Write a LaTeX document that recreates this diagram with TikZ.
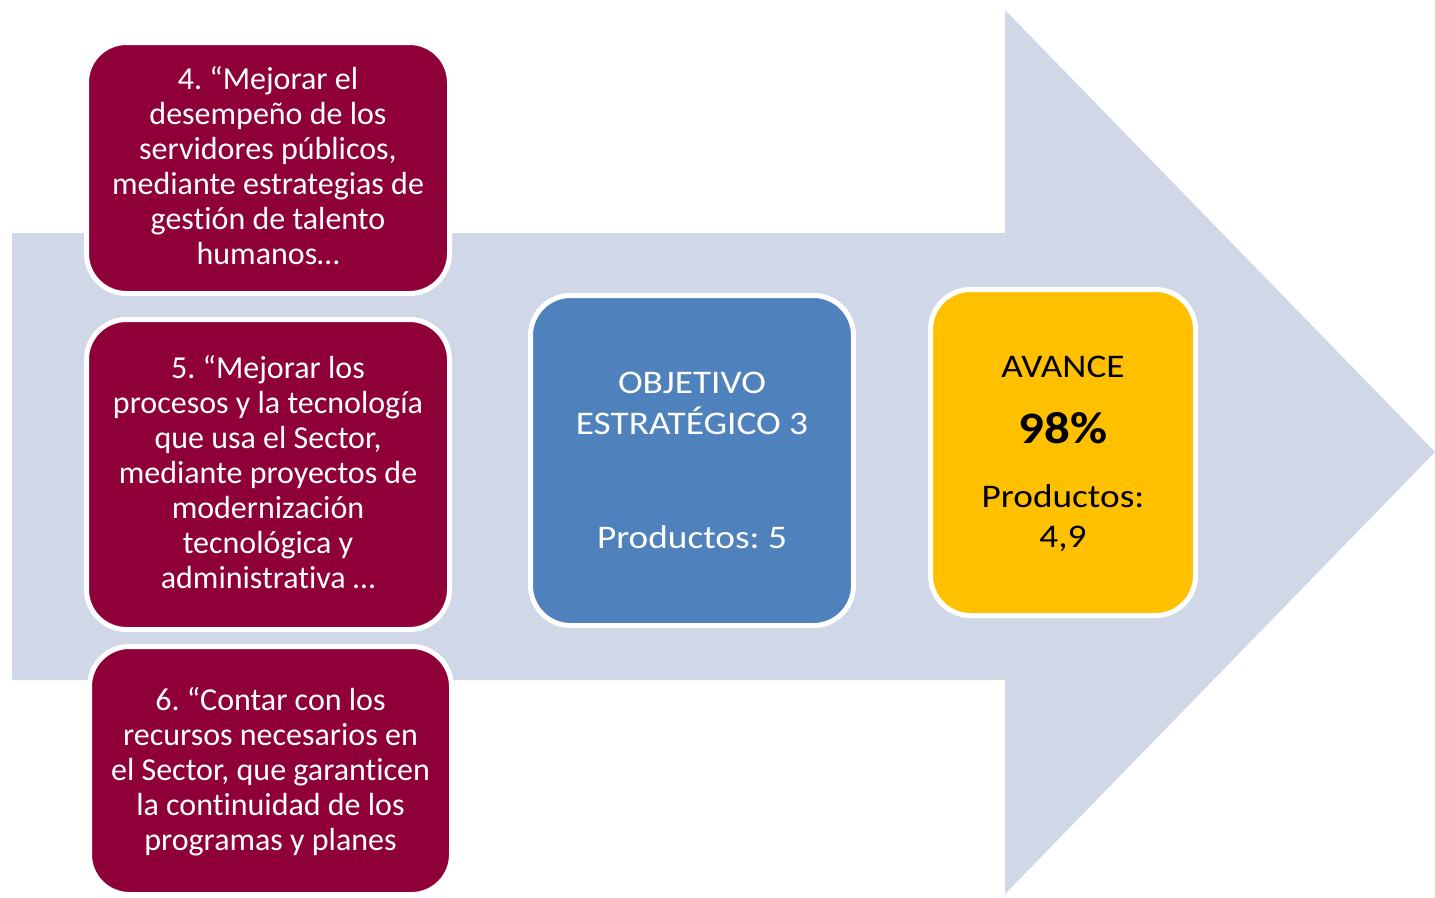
\documentclass[tikz,border=0pt]{standalone}
\usepackage{fontspec}
\setmainfont{Carlito}[Ligatures=CommonOff]
\newfontfamily\widefont{Carlito}[Ligatures=CommonOff,FakeStretch=1.13]
\frenchspacing
\definecolor{crimson}{RGB}{143,0,57}
\definecolor{objblue}{RGB}{79,129,189}
\definecolor{avyellow}{RGB}{255,192,0}
\definecolor{arrowbg}{RGB}{208,216,232}
\tikzset{
  card/.style={rectangle, draw=white, line width=5pt, rounded corners=40pt, inner sep=0pt},
  redcard/.style={card, fill=crimson},
  txt/.style={inner sep=0pt, align=center, anchor=north},
  redtxt/.style={txt, text=white, font=\fontsize{32}{35}\selectfont},
}
\begin{document}
\begin{tikzpicture}[x=1pt,y=-1pt]
\useasboundingbox (0,0) rectangle (1435,897);
% big arrow
\fill[arrowbg] (12,233) -- (1005,233) -- (1005,10) -- (1435,452) -- (1005,894) -- (1005,680) -- (12,680) -- cycle;
% cards
\node[redcard, minimum width=363pt, minimum height=251pt] (b4) at (268,168) {};
\node[redcard, minimum width=363pt, minimum height=310pt] (b5) at (268,474.5) {};
\node[redcard, minimum width=362pt, minimum height=248pt] (b6) at (270.5,770.5) {};
\node[card, fill=objblue, minimum width=323pt, minimum height=330pt] (obj) at (692,460.5) {};
\node[card, fill=avyellow, minimum width=265pt, minimum height=326pt] (av) at (1063,452.5) {};
% texts
\node[redtxt] (t4) at (268,64) {\rule{0pt}{25pt}4. “Mejorar el\\desempeño de los\\servidores públicos,\\mediante estrategias de\\gestión de talento\\humanos…};
\node[redtxt] (t5) at (268,353) {\rule{0pt}{25pt}5. “Mejorar los\\procesos y la tecnología\\que usa el Sector,\\mediante proyectos de\\modernización\\tecnológica y\\administrativa …};
\node[redtxt] (t6) at (270.5,685) {\rule{0pt}{25pt}6. “Contar con los\\recursos necesarios en\\el Sector, que garanticen\\la continuidad de los\\programas y planes};
\node[txt, text=white, font=\widefont\fontsize{33}{41}\selectfont] (tobj) at (692,368) {\rule{0pt}{25pt}OBJETIVO\\ESTRATÉGICO 3\\[73pt]Productos: 5};
\node[txt, text=black, font=\widefont\fontsize{33}{40}\selectfont] (tav) at (1063,352) {\rule{0pt}{25pt}AVANCE\\[26pt]{\fontsize{45}{50}\selectfont\bfseries 98\%}\\[24pt]Productos:\\4,9};
\end{tikzpicture}
\end{document}
